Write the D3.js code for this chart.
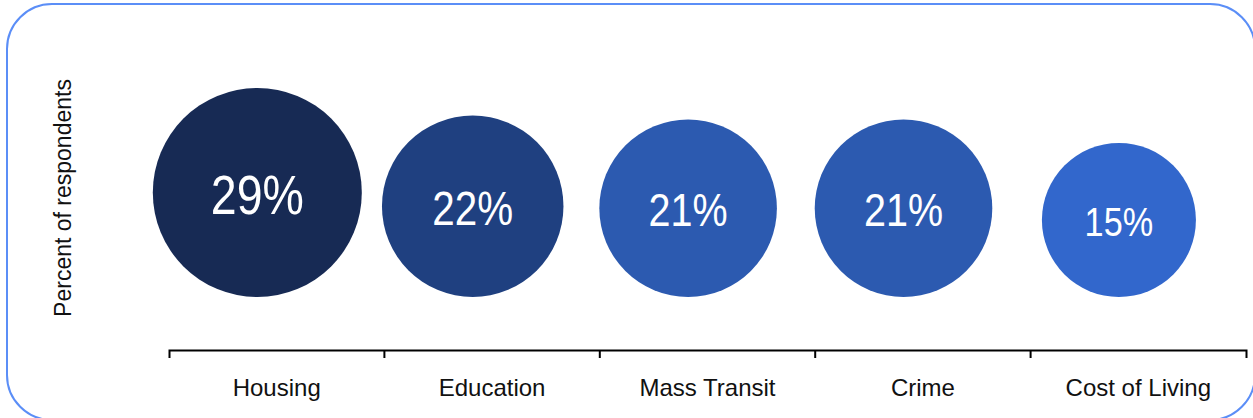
<!DOCTYPE html>
<html>
<head>
<meta charset="utf-8">
<script src="https://cdn.jsdelivr.net/npm/d3@7"></script>
<style>
  html, body { margin: 0; padding: 0; background: #fff; }
  svg { display: block; font-family: "Liberation Sans", Arial, Helvetica, sans-serif; }
</style>
</head>
<body>
<svg id="chart" width="1253" height="418"></svg>
<script>
// Survey topics and share of respondents naming each one
const categories = ["Housing", "Education", "Mass Transit", "Crime", "Cost of Living"];
const values = [29, 22, 21, 21, 15];
const valueLabels = ["29%", "22%", "21%", "21%", "15%"];
const axisTitle = "Percent of respondents";

// Fill colours, darker for the larger shares
const palette = ["#3267cc", "#2c5ab0", "#1f4080", "#172a54"];

const svg = d3.select("#chart");

// Rounded frame around the chart
svg.append("rect")
  .attr("x", 7).attr("y", 4)
  .attr("width", 1248).attr("height", 416)
  .attr("rx", 45).attr("ry", 45)
  .attr("fill", "none")
  .attr("stroke", "#5b8ef7")
  .attr("stroke-width", 2);

const axisY = 350;
const baseY = 297; // circles sit on a common baseline

const x = d3.scaleBand()
  .domain(categories)
  .range([169, 1246])
  .padding(0);

const r = d3.scaleLinear()
  .domain([15, 29])
  .range([77, 104.5]);

const color = d3.scaleLinear()
  .domain([15, 21, 22, 29])
  .range(palette);

const data = categories.map((c, i) => ({ c, v: values[i], label: valueLabels[i] }));

// Bubbles
const node = svg.append("g").selectAll("g.bubble")
  .data(data)
  .join("g")
  .attr("class", "bubble")
  .attr("transform", d => `translate(${x(d.c) + x.bandwidth() * 0.41},${baseY - r(d.v)})`);

node.append("circle")
  .attr("r", d => r(d.v))
  .attr("fill", d => color(d.v));

node.append("text")
  .attr("text-anchor", "middle")
  .attr("fill", "#fff")
  .attr("font-size", d => r(d.v) * 0.53)
  .attr("transform", "scale(0.84,1)")
  .attr("y", d => r(d.v) * 0.53 * 0.38)
  .text(d => d.label);

// Category axis: ticks mark the band boundaries, labels sit in the band centres
const axis = d3.axisBottom(x)
  .tickSize(0)
  .tickSizeOuter(8)
  .tickPadding(0);

const ax = svg.append("g")
  .attr("transform", `translate(0,${axisY})`)
  .call(axis);

ax.select(".domain")
  .attr("stroke", "#000")
  .attr("stroke-width", 2);

ax.selectAll(".tick text")
  .attr("font-size", 24)
  .attr("font-family", "'Liberation Sans', Arial, sans-serif")
  .attr("fill", "#111")
  .attr("dy", null)
  .attr("y", 46);

ax.selectAll("line.boundary")
  .data(categories.slice(1))
  .join("line")
  .attr("class", "boundary")
  .attr("x1", d => x(d)).attr("x2", d => x(d))
  .attr("y1", 0).attr("y2", 8)
  .attr("stroke", "#000")
  .attr("stroke-width", 2);

// Vertical axis title
svg.append("text")
  .attr("transform", "translate(71,198) rotate(-90)")
  .attr("text-anchor", "middle")
  .attr("font-size", 23)
  .attr("fill", "#111")
  .text(axisTitle);
</script>
</body>
</html>
